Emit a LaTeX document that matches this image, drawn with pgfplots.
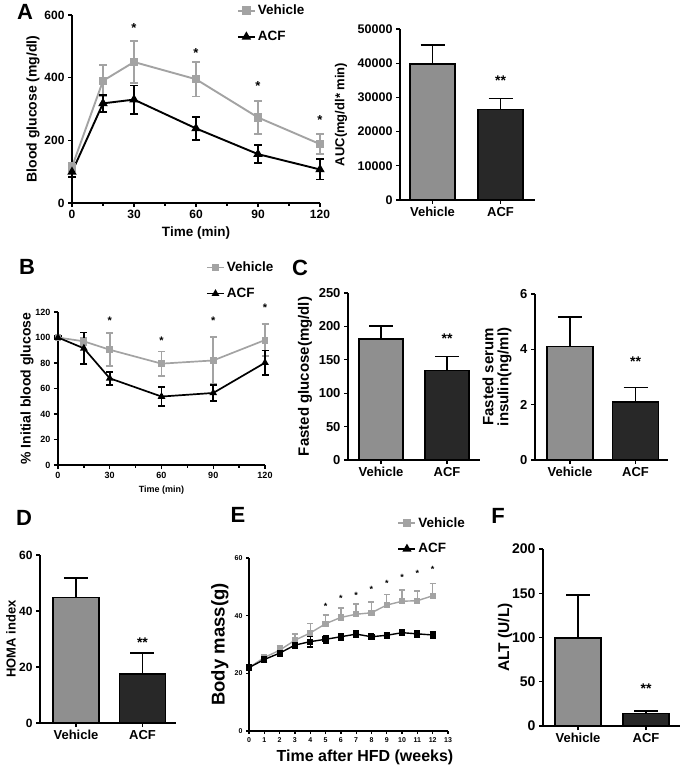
\documentclass[border=0pt]{standalone}
\usepackage{fontspec}
\setmainfont{Liberation Sans}
\usepackage{pgfplots}
\pgfplotsset{compat=1.18}
\definecolor{vgray}{HTML}{A3A3A3}
\definecolor{vbar}{HTML}{8F8F8F}
\definecolor{abar}{HTML}{282828}
\newcommand\fs[1]{\bfseries\fontsize{#1}{#1}\selectfont}
\pgfplotsset{
 prism/.style={scale only axis, axis x line*=bottom, axis y line*=left,
   axis line style={-, line width=1.6pt, black},
   every outer x axis line/.append style={-}, every outer y axis line/.append style={-},
   tick align=outside, major tick length=4pt, minor tick length=2.5pt,
   tick style={black, line width=1.3pt},
   /pgf/number format/assume math mode=true, /pgf/number format/1000 sep={},
   scaled y ticks=false, clip=false, legend cell align=left},
 barax/.style={prism, xtick={0,1}, xticklabels={Vehicle,ACF}, ymin=0,
   x tick label style={font=\fs{13}}},
 barp/.style={ybar, bar width=#1, bar shift=0pt, draw=black, line width=1.6pt,
   error bars/y dir=plus, error bars/y explicit,
   error bars/error bar style={line width=1.6pt, black},
   error bars/error mark options={rotate=90, black, mark size=12pt, line width=1.6pt}},
 starp/.style={only marks, mark=text, text mark={#1}, text mark as node=true,
   black, forget plot},
}
\begin{document}
\begin{tikzpicture}
\path[use as bounding box] (0pt,0pt) rectangle (683pt,-767pt);
% panel letters
\node[font=\fs{22}] at (25pt,-12pt) {A};
\node[font=\fs{22}] at (27pt,-267pt) {B};
\node[font=\fs{22}] at (300pt,-268pt) {C};
\node[font=\fs{22}] at (24pt,-518pt) {D};
\node[font=\fs{22}] at (238pt,-515pt) {E};
\node[font=\fs{22}] at (498pt,-516pt) {F};

% ---------- A: glucose tolerance ----------
\begin{axis}[prism, at={(72pt,-203pt)}, anchor=south west, width=248pt, height=188pt,
  xmin=0, xmax=120, ymin=0, ymax=600, xtick={0,30,...,120}, minor xtick={15,45,75,105},
  ytick={0,200,400,600}, tick label style={font=\fs{12}},
  xlabel={Time (min)}, ylabel={Blood glucose (mg/dl)},
  xlabel style={font=\fs{13.5}, at={(axis description cs:0.5,-0.16)}, anchor=center},
  ylabel style={font=\fs{14}, at={(axis description cs:-0.157,0.5)}, anchor=center},
  legend style={at={(0.652,1.075)}, anchor=north west, draw=none, fill=none,
    font=\fs{13.5}, row sep=11pt}]
\addplot[vgray, line width=1.9pt, mark=square*, mark size=3.3pt, mark options={solid, fill=vgray, draw=vgray},
  error bars/y dir=both, error bars/y explicit, error bars/error bar style={vgray, line width=1.9pt},
  error bars/error mark options={rotate=90, vgray, mark size=4pt, line width=1.9pt}]
  coordinates {(0,115) +- (0,12) (15,390) +- (0,50) (30,450) +- (0,66) (60,395) +- (0,55) (90,273) +- (0,53) (120,188) +- (0,32)};
\addplot[black, line width=1.9pt, mark=triangle*, mark size=3.6pt, mark options={solid, fill=black},
  error bars/y dir=both, error bars/y explicit, error bars/error bar style={black, line width=1.9pt},
  error bars/error mark options={rotate=90, black, mark size=4pt, line width=1.9pt}]
  coordinates {(0,99) +- (0,15) (15,318) +- (0,28) (30,330) +- (0,45) (60,238) +- (0,37) (90,156) +- (0,29) (120,107) +- (0,32)};
\legend{Vehicle, ACF}
\addplot[starp={*}, text mark style={font=\fs{13}, inner sep=0pt}] coordinates {(30,558) (60,479) (90,373) (120,265)};
\end{axis}

% ---------- A: AUC ----------
\begin{axis}[barax, at={(400pt,-200pt)}, anchor=south west, width=135pt, height=171pt,
  xmin=-0.478, xmax=1.507, ymax=50000, ytick={0,10000,...,50000},
  y tick label style={font=\fs{12.5}},
  ylabel={AUC(mg/dl* min)},
  ylabel style={font=\fs{13}, at={(axis description cs:-0.437,0.5)}, anchor=center}]
\addplot[barp=45pt, fill=vbar] coordinates {(0,39800) +- (0,5500)};
\addplot[barp=45pt, fill=abar] coordinates {(1,26500) +- (0,3200)};
\addplot[starp={**}, text mark style={font=\fs{14}, inner sep=0pt}] coordinates {(1,35000)};
\end{axis}

% ---------- B: insulin tolerance ----------
\begin{axis}[prism, at={(58pt,-465pt)}, anchor=south west, width=207pt, height=153pt,
  xmin=0, xmax=120, ymin=0, ymax=120, xtick={0,30,...,120}, minor xtick={15,45,75,105},
  ytick={0,20,...,120}, tick label style={font=\fs{9}},
  xlabel={Time (min)}, ylabel={\% Initial blood glucose},
  xlabel style={font=\fs{9}, at={(axis description cs:0.5,-0.163)}, anchor=center},
  ylabel style={font=\fs{14}, at={(axis description cs:-0.15,0.5)}, anchor=center},
  legend style={at={(0.70,1.355)}, anchor=north west, draw=none, fill=none,
    font=\fs{13.5}, row sep=11pt}]
\addplot[vgray, line width=1.7pt, mark=square*, mark size=2.6pt, mark options={solid, fill=vgray, draw=vgray},
  error bars/y dir=both, error bars/y explicit, error bars/error bar style={vgray, line width=1.7pt},
  error bars/error mark options={rotate=90, vgray, mark size=3.5pt, line width=1.7pt}]
  coordinates {(0,100) +- (0,1) (15,97) +- (0,3) (30,90.4) +- (0,13) (60,79.5) +- (0,9.5) (90,82) +- (0,18.5) (120,98) +- (0,12.5)};
\addplot[black, line width=1.7pt, mark=triangle*, mark size=2.8pt, mark options={solid, fill=black},
  error bars/y dir=both, error bars/y explicit, error bars/error bar style={black, line width=1.7pt},
  error bars/error mark options={rotate=90, black, mark size=3.5pt, line width=1.7pt}]
  coordinates {(0,100) +- (0,1) (15,91.5) +- (0,12.5) (30,68) +- (0,5) (60,53.7) +- (0,7.3) (90,56.5) +- (0,6.3) (120,80.2) +- (0,9.6)};
\legend{Vehicle, ACF}
\addplot[starp={*}, text mark style={font=\fs{11}, inner sep=0pt}] coordinates {(30,113.4) (60,97.7) (90,113.4) (120,123)};
\end{axis}

% ---------- C: fasted glucose ----------
\begin{axis}[barax, at={(348pt,-460pt)}, anchor=south west, width=132pt, height=167pt,
  xmin=-0.5, xmax=1.5, ymax=250, ytick={0,50,...,250},
  y tick label style={font=\fs{13}},
  ylabel={Fasted glucose(mg/dl)},
  ylabel style={font=\fs{15}, at={(axis description cs:-0.326,0.5)}, anchor=center}]
\addplot[barp=44pt, fill=vbar] coordinates {(0,181) +- (0,20)};
\addplot[barp=44pt, fill=abar] coordinates {(1,134) +- (0,21)};
\addplot[starp={**}, text mark style={font=\fs{14}, inner sep=0pt}] coordinates {(1,182)};
\end{axis}

% ---------- C: fasted insulin ----------
\begin{axis}[barax, at={(535pt,-460pt)}, anchor=south west, width=133pt, height=166pt,
  xmin=-0.534, xmax=1.496, ymax=6, ytick={0,2,4,6},
  y tick label style={font=\fs{13}},
  ylabel={Fasted serum\\insulin(ng/ml)},
  ylabel style={font=\fs{15}, align=center, at={(axis description cs:-0.286,0.5)}, anchor=center}]
\addplot[barp=46pt, fill=vbar] coordinates {(0,4.1) +- (0,1.07)};
\addplot[barp=46pt, fill=abar] coordinates {(1,2.1) +- (0,0.52)};
\addplot[starp={**}, text mark style={font=\fs{14}, inner sep=0pt}] coordinates {(1,3.56)};
\end{axis}

% ---------- D: HOMA ----------
\begin{axis}[barax, at={(40pt,-723pt)}, anchor=south west, width=136pt, height=168pt,
  xmin=-0.541, xmax=1.504, ymax=60, ytick={0,20,40,60},
  y tick label style={font=\fs{12}},
  ylabel={HOMA index},
  ylabel style={font=\fs{13}, at={(axis description cs:-0.213,0.5)}, anchor=center}]
\addplot[barp=46pt, fill=vbar] coordinates {(0,44.8) +- (0,7)};
\addplot[barp=46pt, fill=abar] coordinates {(1,17.6) +- (0,7.5)};
\addplot[starp={**}, text mark style={font=\fs{14}, inner sep=0pt}] coordinates {(1,28.7)};
\end{axis}

% ---------- E: body mass ----------
\begin{axis}[prism, at={(249pt,-731pt)}, anchor=south west, width=199pt, height=173pt,
  xmin=0, xmax=13, ymin=0, ymax=60, xtick={0,1,...,13}, ytick={0,20,40,60},
  tick label style={font=\fs{7}}, major tick length=3pt,
  xlabel={Time after HFD (weeks)}, ylabel={Body mass(g)},
  xlabel style={font=\fs{16}, at={(axis description cs:0.583,-0.15)}, anchor=center},
  ylabel style={font=\fs{18.5}, at={(axis description cs:-0.146,0.5)}, anchor=center},
  legend style={at={(0.73,1.26)}, anchor=north west, draw=none, fill=none,
    font=\fs{13.5}, row sep=11pt}]
\addplot[vgray, line width=1.4pt, mark=square*, mark size=2.4pt, mark options={solid, fill=vgray, draw=vgray},
  error bars/y dir=plus, error bars/y explicit, error bars/error bar style={vgray, line width=1.4pt},
  error bars/error mark options={rotate=90, vgray, mark size=3pt, line width=1.4pt}, forget plot]
  coordinates {(0,22) +- (0,0.5) (1,25.5) +- (0,0.8) (2,28) +- (0,1.5) (3,31.5) +- (0,2.2) (4,34) +- (0,3.3) (5,37.2) +- (0,3) (6,39.4) +- (0,3.2) (7,40.5) +- (0,3.6) (8,41) +- (0,3.8) (9,43.7) +- (0,3.6) (10,45) +- (0,3.9) (11,45.2) +- (0,3.4) (12,46.9) +- (0,4.3)};
\addplot[black, line width=1.4pt, mark=square*, mark size=2.4pt, mark options={solid, fill=black},
  error bars/y dir=both, error bars/y explicit, error bars/error bar style={black, line width=1.4pt},
  error bars/error mark options={rotate=90, black, mark size=3pt, line width=1.4pt}, forget plot]
  coordinates {(0,22) +- (0,0.8) (1,24.8) +- (0,0.8) (2,27) +- (0,1) (3,29.8) +- (0,1.2) (4,31) +- (0,1.8) (5,31.8) +- (0,1.3) (6,32.7) +- (0,1.2) (7,33.6) +- (0,1.1) (8,32.7) +- (0,1) (9,33.2) +- (0,1) (10,34.1) +- (0,1) (11,33.7) +- (0,1.2) (12,33.3) +- (0,1)};
\addlegendimage{vgray, line width=1.9pt, mark=square*, mark size=3pt, mark options={solid, fill=vgray, draw=vgray}}
\addlegendentry{Vehicle}
\addlegendimage{black, line width=1.9pt, mark=triangle*, mark size=3.4pt, mark options={solid, fill=black}}
\addlegendentry{ACF}
\addplot[starp={*}, text mark style={font=\fs{9}, inner sep=0pt}] coordinates {(5,43.2) (6,46) (7,47.2) (8,49.2) (9,51.3) (10,53.4) (11,54.5) (12,55.9)};
\end{axis}

% ---------- F: ALT ----------
\begin{axis}[barax, at={(543pt,-726pt)}, anchor=south west, width=137pt, height=177pt,
  xmin=-0.515, xmax=1.5, ymax=200, ytick={0,50,...,200},
  y tick label style={font=\fs{14}},
  ylabel={ALT (U/L)},
  ylabel style={font=\fs{15.5}, at={(axis description cs:-0.277,0.5)}, anchor=center}]
\addplot[barp=46pt, fill=vbar] coordinates {(0,99.2) +- (0,49)};
\addplot[barp=46pt, fill=abar] coordinates {(1,14) +- (0,2.7)};
\addplot[starp={**}, text mark style={font=\fs{14}, inner sep=0pt}] coordinates {(1,42.6)};
\end{axis}
\end{tikzpicture}
\end{document}
